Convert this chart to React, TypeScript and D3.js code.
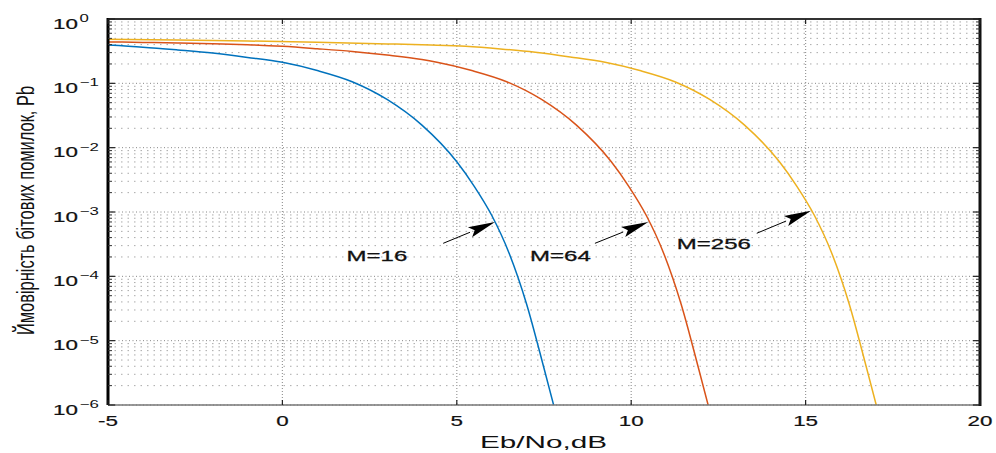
import React from "react";
import * as d3 from "d3";

// ---- data ----
const snr16 = [-5, -4, -3, -2, -1, 0, 1, 2, 3, 4, 5, 5.5, 6, 6.5, 7, 7.5, 7.8];
const pb16 = [0.394, 0.365, 0.33, 0.295, 0.253, 0.212, 0.158, 0.106, 0.0562, 0.0224, 6.03e-3, 2.51e-3, 8.9e-4, 2.29e-4, 3.72e-5, 3.72e-6, 8.9e-7];

const snr64 = [-5, -4, -3, -2, -1, 0, 1, 2, 3, 4, 4.43, 5.43, 6.43, 7.43, 8.43, 9.43, 9.93, 10.43, 10.93, 11.43, 11.93, 12.23];
const pb64 = [0.44, 0.433, 0.424, 0.412, 0.398, 0.376, 0.345, 0.313, 0.275, 0.234, 0.212, 0.158, 0.106, 0.0562, 0.0224, 6.03e-3, 2.51e-3, 8.9e-4, 2.29e-4, 3.72e-5, 3.72e-6, 8.9e-7];

const snr256 = [-5, -3, -1, 1, 3, 4.25, 5.25, 6.25, 7.25, 8.25, 9.25, 10.25, 11.25, 12.25, 13.25, 14.25, 14.75, 15.25, 15.75, 16.25, 16.75, 17.05];
const pb256 = [0.483, 0.47, 0.455, 0.435, 0.41, 0.394, 0.376, 0.343, 0.304, 0.257, 0.212, 0.158, 0.106, 0.0562, 0.0224, 6.03e-3, 2.51e-3, 8.9e-4, 2.29e-4, 3.72e-5, 3.72e-6, 8.9e-7];

const seriesNames = ["M=16", "M=64", "M=256"];
const seriesColors = ["#0072BD", "#D95319", "#EDB120"];

// annotation: label centre / baseline, arrow tail, arrow tip (data units)
const labelX = [2.71, 7.97, 12.37];
const labelY = [1.73e-4, 1.73e-4, 2.63e-4];
const tailX = [4.61, 8.96, 13.6];
const tailY = [3.26e-4, 3.26e-4, 4.67e-4];
const tipX = [6.095, 10.49, 15.155];
const tipY = [7e-4, 7e-4, 1.05e-3];

const xTicks = [-5, 0, 5, 10, 15, 20];
const xTickLabels = ["-5", "0", "5", "10", "15", "20"];
const yExponents = [0, -1, -2, -3, -4, -5, -6];

const xLabel = "Eb/No,dB";
const yLabel = "Ймовірність бітових помилок, Pb";

// ---- layout ----
const W = 996, H = 453;
const L = 108, R = 980, T = 19, B = 405;
const SX = 1.6;
const FONT = "'Liberation Sans', Arial, Helvetica, sans-serif";

export default function App() {
  const x = d3.scaleLinear().domain([-5, 20]).range([L, R]);
  const y = d3.scaleLog().domain([1e-6, 1]).range([B, T]);

  const series = [
    snr16.map((s, i) => [s, pb16[i]]),
    snr64.map((s, i) => [s, pb64[i]]),
    snr256.map((s, i) => [s, pb256[i]]),
  ];
  const line = d3
    .line<number[]>()
    .x((d) => x(d[0]))
    .y((d) => y(d[1]))
    .curve(d3.curveMonotoneX);

  const minor: number[] = [];
  for (let e = -6; e < 0; e++) for (let m = 2; m <= 9; m++) minor.push(m * Math.pow(10, e));

  const arrows = seriesNames.map((_, i) => {
    const x1 = x(tailX[i]), y1 = y(tailY[i]);
    const x2 = x(tipX[i]), y2 = y(tipY[i]);
    const dx = x2 - x1, dy = y2 - y1;
    const len = Math.hypot(dx, dy);
    const ux = dx / len, uy = dy / len;
    const hl = 27, hw = 5.5;
    const bx = x2 - ux * hl, by = y2 - uy * hl;
    const head = `M${x2},${y2}L${bx - uy * hw},${by + ux * hw}L${bx + ux * 5},${by + uy * 5}L${bx + uy * hw},${by - ux * hw}Z`;
    return { x1, y1, bx, by, head };
  });

  return (
    <svg width={W} height={H} style={{ position: "absolute", left: 0, top: 0, background: "#fff" }} fontFamily={FONT}>
      <defs>
        <clipPath id="plotclip">
          <rect x={L} y={T} width={R - L} height={B - T} />
        </clipPath>
      </defs>
      <rect x={0} y={0} width={W} height={H} fill="#fff" />

      {/* minor horizontal grid */}
      {minor.map((v, i) => (
        <line key={"mg" + i} x1={L} x2={R} y1={y(v)} y2={y(v)} stroke="#aaaaaa" strokeWidth={1} strokeDasharray="1.5 5" />
      ))}
      {/* major horizontal grid */}
      {yExponents.map((e) => (
        <line key={"Mg" + e} x1={L} x2={R} y1={y(Math.pow(10, e))} y2={y(Math.pow(10, e))} stroke="#888" strokeWidth={1} strokeDasharray="1 2.5" />
      ))}
      {/* vertical grid */}
      {xTicks.slice(1, -1).map((v) => (
        <line key={"vg" + v} x1={x(v)} x2={x(v)} y1={T} y2={B} stroke="#999" strokeWidth={1.2} strokeDasharray="1 2" />
      ))}

      {/* curves */}
      <g clipPath="url(#plotclip)">
        {series.map((s, i) => (
          <path key={"s" + i} d={line(s) || ""} fill="none" stroke={seriesColors[i]} strokeWidth={1.5} />
        ))}
      </g>

      {/* axes box */}
      <line x1={L} x2={R} y1={T} y2={T} stroke="#333" strokeWidth={2} />
      <line x1={L} x2={R} y1={B} y2={B} stroke="#777" strokeWidth={1.5} />
      <line x1={L} x2={L} y1={T - 1} y2={B} stroke="#000" strokeWidth={3} />
      <line x1={R} x2={R} y1={T - 1} y2={B + 1} stroke="#111" strokeWidth={3} />

      {/* ticks */}
      {xTicks.map((v) => (
        <g key={"xt" + v}>
          <line x1={x(v)} x2={x(v)} y1={B} y2={B - 5} stroke="#222" strokeWidth={1.2} />
          <line x1={x(v)} x2={x(v)} y1={T} y2={T + 5} stroke="#222" strokeWidth={1.2} />
        </g>
      ))}
      {yExponents.map((e) => (
        <g key={"yt" + e}>
          <line x1={L} x2={L + 7} y1={y(Math.pow(10, e))} y2={y(Math.pow(10, e))} stroke="#222" strokeWidth={1.2} />
          <line x1={R} x2={R - 7} y1={y(Math.pow(10, e))} y2={y(Math.pow(10, e))} stroke="#222" strokeWidth={1.2} />
        </g>
      ))}
      {minor.map((v, i) => (
        <g key={"mt" + i}>
          <line x1={L} x2={L + 4} y1={y(v)} y2={y(v)} stroke="#333" strokeWidth={1} />
          <line x1={R} x2={R - 4} y1={y(v)} y2={y(v)} stroke="#333" strokeWidth={1} />
        </g>
      ))}

      {/* x tick labels */}
      {xTicks.map((v, i) => (
        <g key={"xl" + v} transform={`translate(${x(v)},${B + 21}) scale(${SX},1)`}>
          <text textAnchor="middle" fontSize={14} fill="#111" stroke="#111" strokeWidth={0.2}>{xTickLabels[i]}</text>
        </g>
      ))}
      {/* y tick labels */}
      {yExponents.map((e) => (
        <g key={"yl" + e} transform={`translate(78,${y(Math.pow(10, e)) + 9.5}) scale(${SX},1)`}>
          <text textAnchor="end" fontSize={14} fill="#111" stroke="#111" strokeWidth={0.2}>10</text>
          <text x={1} y={-6.5} fontSize={10.5} fill="#111">{e === 0 ? "0" : "\u2212" + Math.abs(e)}</text>
        </g>
      ))}

      {/* axis labels */}
      <g transform={`translate(${(L + R) / 2 - 0.5},448.3) scale(${SX},1)`}>
        <text textAnchor="middle" fontSize={16} fill="#111" textLength={127 / SX} lengthAdjust="spacingAndGlyphs">{xLabel}</text>
      </g>
      <g transform={`translate(34,210.5) scale(${SX},1) rotate(-90)`}>
        <text textAnchor="middle" fontSize={15.5} fill="#111" textLength={249} lengthAdjust="spacingAndGlyphs">{yLabel}</text>
      </g>

      {/* annotations */}
      {seriesNames.map((n, i) => (
        <g key={"an" + i}>
          <line x1={arrows[i].x1} y1={arrows[i].y1} x2={arrows[i].bx} y2={arrows[i].by} stroke="#000" strokeWidth={1} />
          <path d={arrows[i].head} fill="#000" />
          <g transform={`translate(${x(labelX[i])},${y(labelY[i])}) scale(${SX},1)`}>
            <text textAnchor="middle" fontSize={15} fill="#111" stroke="#111" strokeWidth={0.3}>{n}</text>
          </g>
        </g>
      ))}
    </svg>
  );
}
